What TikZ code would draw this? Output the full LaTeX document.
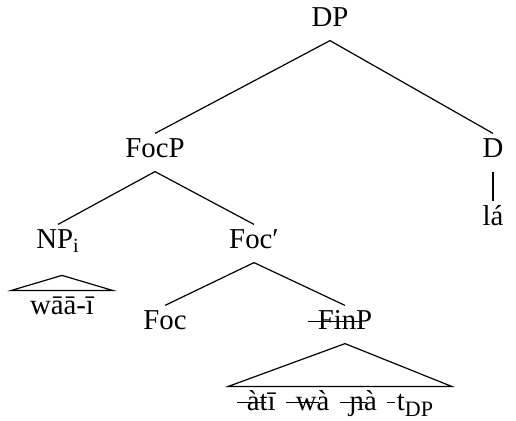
\documentclass[tikz,border=0pt]{standalone}
\usepackage{fontspec}
\setmainfont{Liberation Serif}
\usetikzlibrary{positioning}

\newsavebox\strkbox
\newcommand{\struck}[1]{\sbox\strkbox{#1}%
  \rlap{\hspace{-0.35em}\rule[0.25em]{\wd\strkbox}{0.5pt}}\usebox\strkbox}
\newcommand{\trsub}[1]{\raisebox{-0.22em}{\fontsize{11}{12}\selectfont #1}}

\tikzset{
  cat/.style={inner sep=4.5pt, text height=0.7em, text depth=0.25em,
              font=\fontsize{14.4}{17}\selectfont, anchor=base},
  yield/.style={cat, inner xsep=9pt},
}

\begin{document}
\begin{tikzpicture}[x=0.5pt, y=-0.5pt, line width=0.6pt]
  \useasboundingbox (0,0) rectangle (516,420);

  \node[cat] (dp) at (330,26) {DP} ;
  \node[cat] (focp) at (155,157) {FocP} ;
  \node[cat] (d) at (493,157) {D} ;
  \node[cat] (la) at (493,225) {lá} ;
  \node[cat] (np) at (58,248) {NP\textsubscript{i}} ;
  \node[cat] (focbar) at (254,248) {Foc′} ;
  \node[yield] (waai) at (62,314) {wāā-ī} ;
  \node[cat] (foc) at (165,329) {Foc} ;
  \node[cat] (finp) at (345,329) {\struck{FinP}} ;
  \node[yield] (words) at (340,410)
    {\struck{àtī}\hspace{0.7em}\struck{wà}\hspace{0.7em}\struck{ɲà}\hspace{0.7em}\struck{t}\trsub{DP}} ;

  \draw (dp.south) -- (focp.north) ;
  \draw (dp.south) -- (d.north) ;
  \draw (d.south) -- (la.north) ;
  \draw (focp.south) -- (np.north) ;
  \draw (focp.south) -- (focbar.north) ;
  \draw (focbar.south) -- (foc.north) ;
  \draw (focbar.south) -- (finp.north) ;
  \draw ([yshift=7.5pt]waai.north) -- (waai.north west) -- (waai.north east) -- cycle ;
  \draw (finp.south) -- (words.north west) -- (words.north east) -- cycle ;
\end{tikzpicture}
\end{document}
